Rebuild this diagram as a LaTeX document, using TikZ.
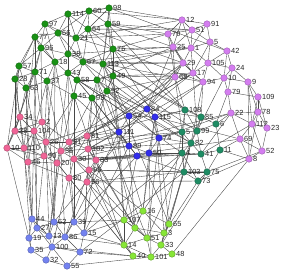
\documentclass[tikz,border=0pt]{standalone}
\usepackage{fontspec}
\setmainfont{Liberation Sans}
\usetikzlibrary{backgrounds}
\definecolor{cG}{RGB}{24,145,20}
\definecolor{cP}{RGB}{240,100,150}
\definecolor{cV}{RGB}{212,125,240}
\definecolor{cB}{RGB}{50,45,235}
\definecolor{cT}{RGB}{30,140,100}
\definecolor{cL}{RGB}{115,130,240}
\definecolor{cY}{RGB}{135,230,55}
\begin{document}
\begin{tikzpicture}[x=0.03cm,y=-0.03cm,
  vtx/.style={circle,inner sep=0pt,minimum size=5.6pt,line width=0.3pt},
  gr/.style={vtx,fill=cG,draw=cG!65!black},
  pk/.style={vtx,fill=cP,draw=cP!70!black},
  vi/.style={vtx,fill=cV,draw=cV!70!black},
  bl/.style={vtx,fill=cB,draw=cB!70!black},
  te/.style={vtx,fill=cT,draw=cT!65!black},
  lb/.style={vtx,fill=cL,draw=cL!70!black},
  yg/.style={vtx,fill=cY,draw=cY!65!black},
  lbl/.style={font=\fontsize{6.3}{6.3}\selectfont,inner sep=0.4pt,text=black!85},
  edge/.style={line width=0.32pt,draw=black!72}]
\useasboundingbox (0,0) rectangle (287,277);
% green
\foreach \n/\x/\y/\t in {g114/68/14/114,g60/89/11/60,g98/109/8/98,g97/45/24/97,g66/58/33/66,g64/88/29/64,g59/108/24/59,g77/35/37/77,g21/76/38/21,g96/41/48/96,g76/113/49/76,g38/68/54/38,g18/55/62/18,g67/83/62/67,g113/103/64/113,g57/19/66/57,g71/35/72/71,g43/68/73/43,g49/113/76/49,g28/15/79/28,g37/47/81/37,g58/77/80/58,g7/97/80/7,g63/26/88/63,g92/107/91/92,g45/74/96/45,g93/92/98/93}
  \node[gr,label={[lbl]0:\t}] (\n) at (\x,\y) {};
% pink
\foreach \n/\x/\y/\t in {p34/20/117/34,p2/42/122/2,p38/15/131/38,p104/34/131/104,p10/7/148/10,p110/24/148/110,p26/46/142/26,p31/69/142/31,p81/87/136/81,p90/44/156/90,p46/28/162/46,p36/61/151/36,p102/88/149/102,p20/57/163/20,p30/74/159/30,p83/96/160/83,p95/89/170/95,p80/69/178/80,p56/87/182/56}
  \node[pk,label={[lbl]0:\t}] (\n) at (\x,\y) {};
% violet
\foreach \n/\x/\y/\t in {v12/182/20/12,v91/207/24/91,v70/168/34/70,v51/192/30/51,v5/210/42/5,v25/173/47/25,v1/191/48/1,v42/227/51/42,v29/183/63/29,v105/208/63/105,v24/232/68/24,v17/193/73/17,v68/175/77/68,v94/203/82/94,v10/224/78/10,v9/248/82/9,v79/228/92/79,v109/258/97/109,v22/231/113/22,v78/258/112/78,v112/252/124/112,v23/267/128/23,v69/240/139/69,v52/262/151/52,v8/249/159/8}
  \node[vi,label={[lbl]0:\t}] (\n) at (\x,\y) {};
% blue
\foreach \n/\x/\y/\t in {b84/147/109/84,b54/129/116/54,b115/155/117/115,b111/119/132/111,b74/159/138/74,b89/129/146/89,b50/149/153/50}
  \node[bl,label={[lbl]0:\t}] (\n) at (\x,\y) {};
\node[bl] (b0) at (137,156) {};
% teal
\foreach \n/\x/\y/\t in {t108/185/110/108,t85/201/117/85,t6/216/124/6,t5/182/132/5,t99/197/131/99,t82/191/143/82,t4/182/153/4,t41/201/154/41,t11/220/150/11,t103/184/172/103,t75/207/172/75,t73/198/181/73}
  \node[te,label={[lbl]0:\t}] (\n) at (\x,\y) {};
% light blue
\foreach \n/\x/\y/\t in {l44/32/219/44,l62/54/222/62,l39/74/222/39,l27/37/228/27,l19/29/238/19,l13/49/236/13,l86/65/237/86,l15/84/233/15,l35/31/250/35,l100/52/247/100,l72/80/252/72,l32/46/260/32,l55/67/266/55}
  \node[lb,label={[lbl]0:\t}] (\n) at (\x,\y) {};
% light green
\foreach \n/\x/\y/\t in {y16/143/211/16,y107/124/220/107,y65/169/224/65,y3/164/233/3,y51/147/238/51,y14/124/245/14,y33/161/245/33,y40/133/256/40,y101/151/257/101,y48/172/254/48}
  \node[yg,label={[lbl]0:\t}] (\n) at (\x,\y) {};
\node[yg] (y0) at (135,228) {};
\begin{pgfonlayer}{background}
% intra-community edges
\foreach \a/\bs in {g114/{g60,g98,g66,g21,g97,g64,g38},g60/{g98,g64,g59,g21,g66},g98/{g59,g64,g76,g113},g97/{g66,g77,g96,g21,g18},g66/{g21,g77,g38,g96,g67},g64/{g59,g21,g76,g113,g67},g59/{g76,g113,g49},g77/{g96,g57,g71,g28,g18},g21/{g38,g67,g76},g96/{g18,g57,g71,g38},g76/{g113,g49,g67},g38/{g18,g67,g43,g113},g18/{g71,g43,g37},g67/{g113,g43,g58},g113/{g49,g7,g92},g57/{g71,g28,g63},g71/{g28,g63,g37},g43/{g58,g45,g37},g49/{g7,g92},g28/{g63},g37/{g63,g45},g58/{g7,g45,g93},g7/{g92,g93},g92/{g93},g45/{g93},
 p34/{p2,p38,p104,p10,p110},p2/{p104,p26,p38,p31},p38/{p104,p10,p110,p26},p104/{p110,p26,p90,p46},p10/{p110,p46,p90},p110/{p46,p90,p26},p26/{p31,p36,p90,p20},p31/{p81,p36,p102,p30},p81/{p102,p83,p30},p90/{p46,p20,p36},p46/{p20,p80},p36/{p30,p20,p102},p102/{p83,p30,p95},p20/{p80,p30},p30/{p83,p95,p80},p83/{p95,p56},p95/{p56,p80},p80/{p56},
 v12/{v91,v70,v51,v25,v1},v91/{v51,v5,v1},v70/{v25,v51,v29,v68},v51/{v1,v25,v5},v5/{v1,v105,v42,v17},v25/{v1,v29,v68,v17},v1/{v29,v105,v17},v42/{v105,v24,v10},v29/{v17,v68,v94},v105/{v17,v94,v10,v24},v24/{v10,v9,v79},v17/{v94,v68},v68/{v94},v94/{v10},v10/{v79,v9},v9/{v109,v78,v112,v8},v79/{v22,v109},v109/{v78,v112,v23},v22/{v78,v112,v69},v78/{v112,v23,v8},v112/{v23,v69,v52},v23/{v52},v69/{v8,v52},v52/{v8},
 t108/{t85,t5,t99,t4},t85/{t6,t99,t82},t6/{t99,t11},t5/{t99,t82,t4,t103},t99/{t82,t41},t82/{t4,t41,t103},t4/{t41,t103,t73},t41/{t11,t75},t11/{t75},t103/{t75,t73},t75/{t73},
 b84/{b54,b115,b111,b74},b54/{b115,b111,b89},b115/{b74,b50},b111/{b89,b0},b74/{b50,b89},b89/{b0,b50},b50/{b0},
 l44/{l62,l27,l19,l13},l62/{l39,l27,l13,l86},l39/{l86,l15},l27/{l19,l13,l100},l19/{l35,l13},l13/{l86,l100},l86/{l15,l100,l72},l15/{l72},l35/{l100,l32},l100/{l32,l72,l55},l72/{l55},l32/{l55},
 y16/{y107,y0,y65,y3},y107/{y0,y14,y51},y0/{y51,y3,y14},y65/{y3,y33},y3/{y51,y33},y51/{y33,y14,y101},y14/{y40,y101},y33/{y101,y48},y40/{y101},y101/{y48}}
  {\foreach \b in \bs {\draw[edge] (\a) -- (\b);}}
% inter-community edges
\foreach \a/\b in {g98/v12,g59/v70,g76/v25,g113/v68,g60/v12,g64/v29,g49/v17,g113/v1,g21/v70,g76/v94,g59/v51,g67/v29,g92/v68,g7/v25,g98/v42,
 g76/v70,g59/v25,g113/v29,g49/v68,g67/v1,g21/v12,g64/v51,g38/v25,
 g63/p34,g28/p34,g57/p38,g71/p2,g37/p104,g45/p26,g43/p31,g93/p81,g92/p102,g58/p36,g18/p26,g96/p38,g77/p110,g63/p104,g45/p30,g7/p83,g49/p81,g93/p31,g37/p90,g71/p10,
 g18/p31,g37/p36,g57/p10,g28/p38,g63/p46,g96/p2,
 g113/b54,g49/b111,g92/b84,g7/b111,g76/b115,g93/b89,g67/b54,g43/b54,g58/b111,g45/b89,g93/b0,g92/b74,g67/b84,
 g76/t108,g49/t5,g113/t85,g59/t108,g92/t82,g7/t5,g49/t99,g113/t108,g58/t82,g43/t4,
 g63/l44,g37/l62,g45/l39,g28/l44,g43/l13,g93/l15,g71/l27,g71/l44,g18/l62,
 g92/y16,g49/y107,g7/y0,g45/y14,g113/y65,g93/y51,
 p81/b111,p102/b89,p83/b0,p31/b54,p83/b50,p30/b89,p102/b111,p36/b111,p26/b54,
 p83/t4,p102/t5,p81/t108,p95/t103,p56/t73,p30/t41,p31/t5,p102/t82,p30/t4,p83/t41,p95/t75,p56/t103,
 p81/v68,p31/v29,p102/v22,p83/v69,p36/v17,p81/v17,p102/v94,
 p46/l44,p90/l27,p20/l62,p80/l39,p56/l15,p10/l19,p110/l35,p36/l13,p95/l86,p80/l100,
 p104/l27,p26/l13,p31/l39,p36/l86,p83/l15,p2/l62,
 p56/y107,p95/y16,p80/y14,p83/y0,p30/y51,p20/y40,p102/y0,p95/y14,p56/y40,
 b115/t108,b74/t5,b50/t4,b84/t85,b74/t82,b0/t103,
 b84/v68,b115/v94,b74/v22,b84/v17,b115/v69,b54/v29,b84/v25,
 b89/l15,b0/l39,b111/l86,
 b50/y16,b0/y107,b74/y65,b89/y0,b115/y3,b115/y16,b111/y107,b74/y51,b50/y101,
 t6/v22,t11/v69,t85/v94,t108/v68,t6/v79,t11/v8,t75/v52,t41/v112,t99/v10,t73/v8,
 t5/v68,t82/v94,t99/v17,t41/v22,
 t103/y65,t73/y3,t4/y16,t75/y33,t82/y51,t5/y3,t82/y65,t103/y33,
 t4/l15,t103/l72,
 l15/y14,l72/y40,l55/y101,l39/y107,l86/y14,l100/y40,l15/y107,
 y48/v8,v29/l62}
  {\draw[edge] (\a) -- (\b);}
\end{pgfonlayer}
\end{tikzpicture}
\end{document}
